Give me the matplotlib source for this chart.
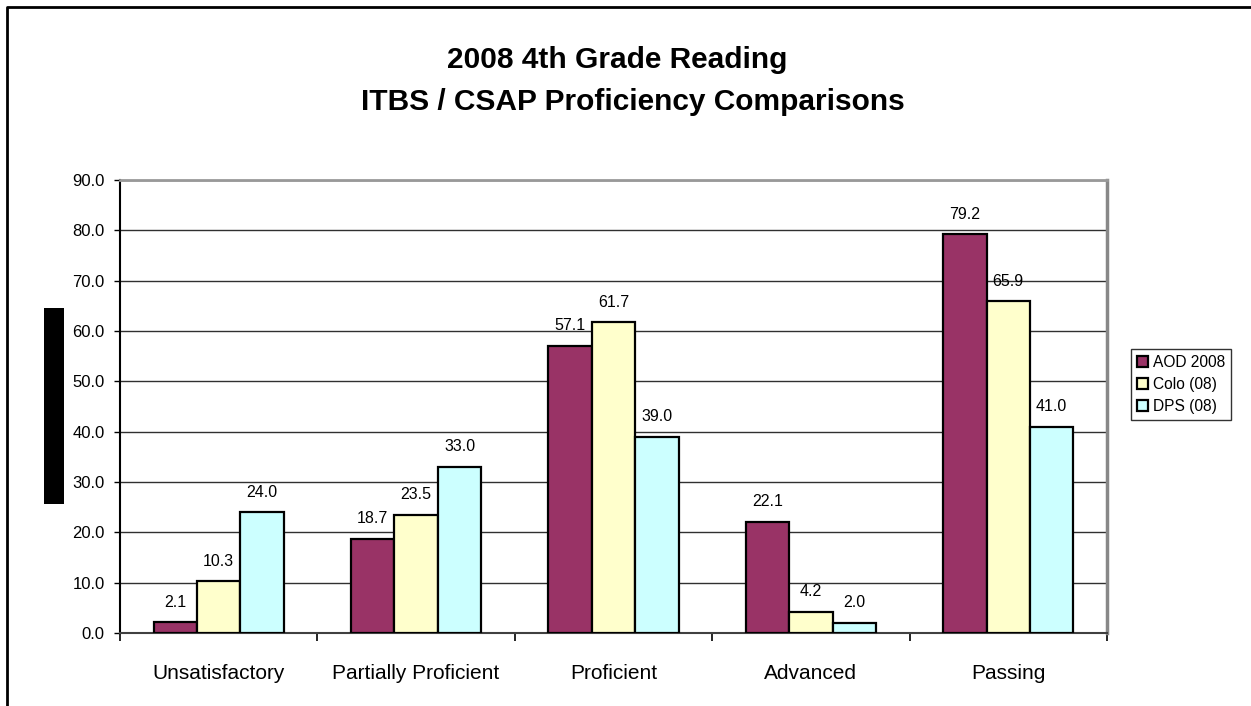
import numpy as np
import matplotlib
matplotlib.use('Agg')
from matplotlib import pyplot as plt
from matplotlib.patches import Rectangle
from matplotlib.lines import Line2D

categories = ['Unsatisfactory', 'Partially Proficient', 'Proficient', 'Advanced', 'Passing']
aod_2008 = [2.1, 18.7, 57.1, 22.1, 79.2]
colo_08 = [10.3, 23.5, 61.7, 4.2, 65.9]
dps_08 = [24.0, 33.0, 39.0, 2.0, 41.0]
series_names = ['AOD 2008', 'Colo (08)', 'DPS (08)']
yticks = [0, 10, 20, 30, 40, 50, 60, 70, 80, 90]

plt.rcParams['font.family'] = ['Liberation Sans', 'DejaVu Sans']

W, H = 1251, 706
fig = plt.figure(figsize=(W / 100, H / 100), dpi=100)
fig.patch.set_facecolor('white')

# plot area in pixel terms: x 120..1107, y 180..633
ax = fig.add_axes([120 / W, 1 - 633 / H, (1107 - 120) / W, (633 - 180) / H])

x = np.arange(len(categories))
bw = 0.22
colors = ['#993366', '#FFFFCC', '#CCFFFF']
all_series = [aod_2008, colo_08, dps_08]
for i, (vals, col, name) in enumerate(zip(all_series, colors, series_names)):
    pos = x + (i - 1) * bw
    ax.bar(pos, vals, width=bw, color=col, edgecolor='black', linewidth=1.6,
           label=name, zorder=3)
    for xp, v in zip(pos, vals):
        ax.annotate('%.1f' % v, (xp, v), xytext=(0, 14.4), textcoords='offset points',
                    ha='center', va='center', fontsize=11.5, zorder=4)

ax.set_xlim(-0.5, len(categories) - 0.5)
ax.set_ylim(0, 90)
ax.set_yticks(yticks)
ax.set_yticklabels(['%.1f' % t for t in yticks], fontsize=12)
ax.tick_params(axis='y', direction='out', length=4, width=1, pad=7)

ax.set_xticks(x)
ax.set_xticklabels(categories, fontsize=15)
ax.tick_params(axis='x', which='major', length=0, pad=22)
ax.set_xticks(np.arange(-0.5, len(categories)), minor=True)
ax.tick_params(axis='x', which='minor', direction='out', length=6, width=1.2)

ax.yaxis.grid(True, color='#303030', linewidth=1.0, zorder=0)
ax.set_axisbelow(True)
ax.spines['left'].set_color('black')
ax.spines['left'].set_linewidth(1.5)
ax.spines['bottom'].set_color('#404040')
ax.spines['bottom'].set_linewidth(1.5)
ax.spines['top'].set_color('#999999')
ax.spines['top'].set_linewidth(2)
ax.spines['right'].set_color('#888888')
ax.spines['right'].set_linewidth(2.5)

leg = ax.legend(loc='upper left', bbox_to_anchor=(1131 / W, 1 - 349 / H),
                bbox_transform=fig.transFigure, fontsize=11.2, frameon=True,
                fancybox=False, edgecolor='black', handlelength=0.7, handleheight=0.7,
                handletextpad=0.3, borderpad=0.4, labelspacing=0.45, borderaxespad=0)
leg.get_frame().set_linewidth(1.0)

fig.text(617 / W, 1 - 60 / H, '2008 4th Grade Reading', ha='center', va='center',
         fontsize=21.5, fontweight='bold')
fig.text(633 / W, 1 - 102 / H, 'ITBS / CSAP Proficiency Comparisons', ha='center',
         va='center', fontsize=21.5, fontweight='bold')

# blacked-out y axis title
fig.patches.append(Rectangle((44 / W, 1 - 504 / H), 20 / W, 196 / H,
                             transform=fig.transFigure, facecolor='black',
                             edgecolor='none'))

# outer chart border (top and left visible)
fig.lines.append(Line2D([7 / W, 7 / W, 1.0], [0.0, 1 - 7 / H, 1 - 7 / H],
                        transform=fig.transFigure, color='black', linewidth=2))

fig.savefig('out.png', dpi=100)
